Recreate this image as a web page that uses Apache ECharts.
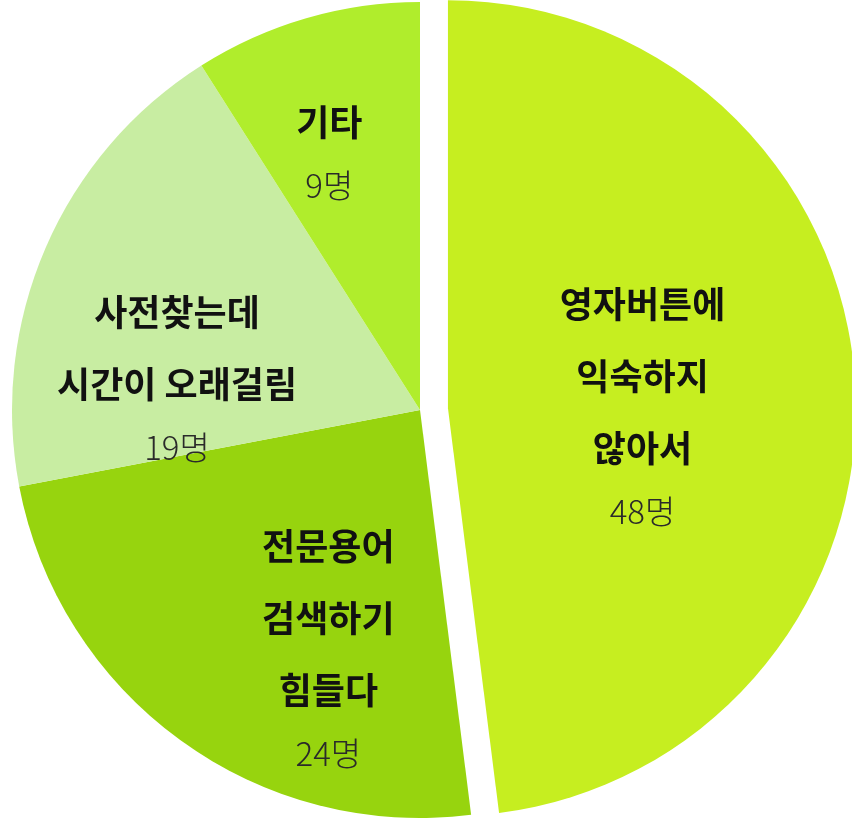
<!DOCTYPE html>
<html><head><meta charset="utf-8">
<style>html,body{margin:0;padding:0;background:#fff}#c{width:852px;height:822px}</style>
<script src="https://cdn.jsdelivr.net/npm/echarts@6/dist/echarts.min.js"></script>
</head><body><div id="c"></div>
<script>
const categories = ['영자버튼에\n익숙하지\n않아서', '전문용어\n검색하기\n힘들다', '사전찾는데\n시간이 오래걸림', '기타'];
const values = [48, 24, 19, 9];
const unit = '명';
const colors = ['#c6ee20', '#97d40e', '#c8eda2', '#b0ed2c'];
const labelShift = [[-12, 8], [30, 68], [-53, 48], [-33, -62]];

const chart = echarts.init(document.getElementById('c'), null, {renderer: 'canvas'});
chart.setOption({
  animation: false,
  series: [{
    type: 'pie',
    center: [420, 410],
    radius: 408,
    startAngle: 90,
    clockwise: true,
    selectedMode: 'single',
    selectedOffset: 28,
    emphasis: {disabled: true},
    label: {
      show: true,
      position: 'inside',
      formatter: p => p.name.split('\n').map(s => '{t|' + s + '}').join('\n') + '\n{n|' + p.value + unit + '}',
      rich: {
        t: {fontFamily: 'Noto Sans CJK KR', fontSize: 36, fontWeight: 'bold', color: '#111', lineHeight: 72, align: 'center'},
        n: {fontFamily: 'Noto Sans CJK KR', fontSize: 33, fontWeight: 300, color: '#2a2a2a', lineHeight: 54, align: 'center'}
      }
    },
    labelLayout: p => ({dx: labelShift[p.dataIndex][0], dy: labelShift[p.dataIndex][1]}),
    labelLine: {show: false},
    data: values.map((v, i) => ({
      name: categories[i], value: v, selected: i === 0,
      itemStyle: {color: colors[i]}
    }))
  }]
});
</script></body></html>
